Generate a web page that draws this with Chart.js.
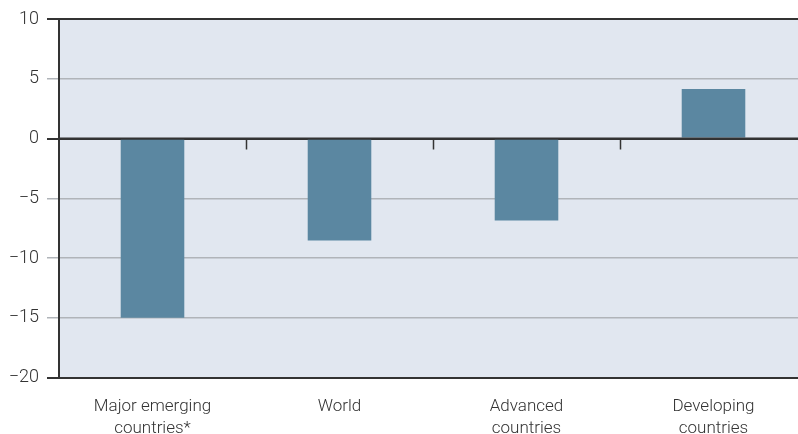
<!DOCTYPE html>
<html>
<head>
<meta charset="utf-8">
<script src="https://cdn.jsdelivr.net/npm/chart.js@4"></script>
<style>
  html, body { margin: 0; padding: 0; background: #fff; overflow: hidden; }
  #wrap { width: 807px; height: 434px; }
</style>
</head>
<body>
<div id="wrap"><canvas id="chart" width="807" height="434"></canvas></div>
<script>
// data
const categories = [
    ['Major emerging', 'countries*'],
    ['World'],
    ['Advanced', 'countries'],
    ['Developing', 'countries']
];
const values = [-15, -8.53, -6.86, 4.15];
const yTicks = [10, 5, 0, -5, -10, -15, -20];

const DARK = '#333333';
const GREY = '#b0b4b9';

// light blue panel behind the plot
const panelBg = {
    id: 'panelBg',
    beforeDraw(chart) {
        const a = chart.chartArea;
        const ctx = chart.ctx;
        ctx.save();
        ctx.fillStyle = '#e1e7f0';
        ctx.fillRect(a.left, a.top, a.right - a.left, a.bottom - a.top);
        ctx.restore();
    }
};

// small marks under the zero line between categories
const zeroTicks = {
    id: 'zeroTicks',
    afterDatasetsDraw(chart) {
        const xs = chart.scales.x;
        const y0 = chart.scales.y.getPixelForValue(0);
        const ctx = chart.ctx;
        ctx.save();
        ctx.strokeStyle = DARK;
        ctx.lineWidth = 1.5;
        for (let i = 1; i < categories.length; i++) {
            const x = Math.round((xs.getPixelForValue(i - 1) + xs.getPixelForValue(i)) / 2) + 0.5;
            ctx.beginPath();
            ctx.moveTo(x, y0);
            ctx.lineTo(x, y0 + 11);
            ctx.stroke();
        }
        // redraw the zero line on top of the bars
        ctx.lineWidth = 2;
        ctx.beginPath();
        ctx.moveTo(chart.chartArea.left, y0);
        ctx.lineTo(chart.chartArea.right, y0);
        ctx.stroke();
        ctx.restore();
    }
};

const lineColor = ctx => {
    const v = ctx.tick ? ctx.tick.value : null;
    return (v === 0 || v === 10 || v === -20) ? DARK : GREY;
};
const lineWidth = ctx => {
    const v = ctx.tick ? ctx.tick.value : null;
    return (v === 0 || v === 10 || v === -20) ? 2 : 1.5;
};

new Chart(document.getElementById('chart'), {
    type: 'bar',
    data: {
        labels: categories,
        datasets: [{
            data: values,
            backgroundColor: '#5b87a1',
            borderWidth: 0,
            categoryPercentage: 1,
            barPercentage: 0.34
        }]
    },
    options: {
        responsive: false,
        animation: false,
        layout: { padding: { top: 19, right: 0, left: 0, bottom: 0 } },
        plugins: {
            legend: { display: false },
            tooltip: { enabled: false }
        },
        scales: {
            x: {
                grid: { display: false, drawTicks: false },
                border: { display: true, color: DARK, width: 2 },
                ticks: {
                    color: '#333',
                    padding: 19,
                    maxRotation: 0,
                    font: { family: 'Roboto', size: 17, weight: '300', lineHeight: 1.25 }
                },
                afterFit: s => { s.height = 56.5; }
            },
            y: {
                min: -20,
                max: 10,
                afterBuildTicks: s => { s.ticks = yTicks.map(v => ({ value: v })); },
                grid: {
                    color: lineColor,
                    tickColor: lineColor,
                    lineWidth: lineWidth,
                    tickLength: 12
                },
                border: { display: true, color: DARK, width: 2 },
                ticks: {
                    color: '#333',
                    padding: 8,
                    font: { family: 'Roboto', size: 18, weight: '300' },
                    callback: v => v < 0 ? '\u2212' + Math.abs(v) : String(v)
                },
                afterFit: s => { s.width = 59; }
            }
        }
    },
    plugins: [panelBg, zeroTicks]
});
</script>
</body>
</html>
